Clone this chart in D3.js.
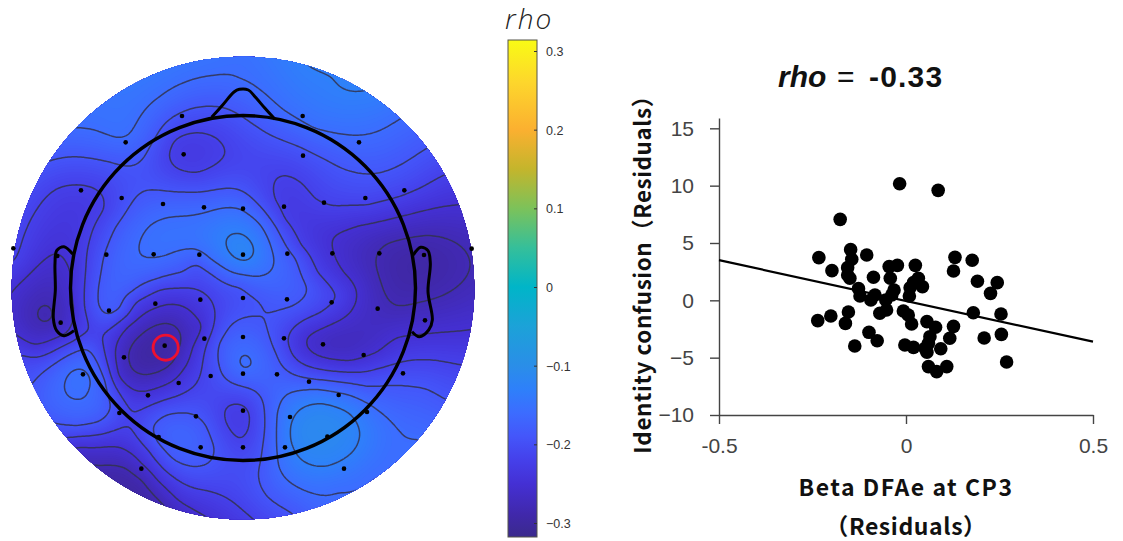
<!DOCTYPE html>
<html>
<head>
<meta charset="utf-8">
<script src="https://cdnjs.cloudflare.com/ajax/libs/d3/7.8.5/d3.min.js"></script>
<style>
html,body{margin:0;padding:0;background:#fff;}
svg{display:block;}
</style>
</head>
<body>
<svg width="1123" height="541"></svg>
<script>
// scatter
var betaDfa = [-0.017,0.086,-0.176,-0.148,-0.105,-0.233,-0.145,-0.156,-0.198,-0.156,-0.150,-0.087,-0.045,-0.023,0.025,0.131,0.177,0.127,-0.042,0.033,0.020,0.191,0.244,-0.127,-0.032,0.044,0.011,0.226,-0.123,-0.083,0.009,-0.038,-0.094,-0.054,0.180,0.254,-0.154,-0.201,-0.236,-0.162,-0.070,-0.052,-0.007,0.006,0.015,0.056,0.079,0.127,-0.099,-0.077,0.117,0.209,0.255,0.064,0.060,-0.003,0.020,0.051,0.093,0.056,-0.137,0.060,0.082,0.109,0.269];
var identityConfusion = [10.17,9.59,7.06,4.42,3.95,3.72,3.58,2.85,2.59,2.21,1.92,2.01,2.94,3.05,3.05,3.75,3.49,2.56,1.92,1.92,1.54,1.66,1.54,1.02,0.90,1.19,1.10,0.61,0.38,0.47,0.38,0.47,0.03,0.03,-1.08,-1.19,-1.02,-1.37,-1.77,-2.01,-1.13,-0.84,-0.93,-1.28,-2.06,-1.86,-2.35,-2.27,-2.79,-3.52,-3.31,-3.28,-2.97,-3.17,-3.75,-3.90,-4.10,-4.19,-4.22,-4.53,-3.98,-5.78,-6.22,-5.78,-5.38];
var fitX = [-0.5,0.5];
var fitY = [3.5,-3.6];
var xTicks = [-0.5,0,0.5];
var yTicks = [-10,-5,0,5,10,15];
var rhoTicks = [0.3,0.2,0.1,0,-0.1,-0.2,-0.3];
var rhoLevels = [-0.28,-0.25,-0.22,-0.19,-0.16,-0.13];

// electrodes, in map units (head radius 517.5, centre 729,684)
var electrodes = [[546,168],[908,168],[377,247],[1077,247],[551,283],[909,287],[243,391],[365,414],[1213,391],[1096,414],[972,428],[489,432],[612,442],[729,446],[852,440],[40,565],[1415,566],[319,584],[461,583],[598,584],[729,584],[862,581],[997,580],[1138,580],[172,588],[1272,585],[327,752],[466,731],[601,719],[729,714],[861,718],[995,727],[1133,746],[182,788],[1275,781],[613,836],[729,831],[852,835],[494,857],[969,853],[1091,885],[372,892],[249,943],[632,948],[729,941],[831,943],[927,965],[1209,940],[536,969],[444,1006],[1016,1005],[358,1059],[1101,1056],[729,1052],[588,1069],[870,1071],[476,1131],[982,1130],[602,1162],[729,1162],[855,1162],[424,1226],[1032,1226]];

// rho read along the contour lines of the map
var traceM13 = [[680,550],[705,522],[745,540],[760,580],[735,605],[700,590],
  [870,1100],[905,1045],[965,1030],[1050,1060],[1080,1120],[1060,1175],[980,1220],[900,1195],[870,1140],
  [925,20],[960,35],[1000,45]];
var traceM16 = [[420,570],[450,495],[510,470],[610,460],[720,445],[780,490],[815,570],[815,625],[770,650],[700,640],[630,600],[560,570],[490,590],[430,590],
  [830,1060],[860,1005],[950,985],[1050,1005],[1130,1050],[1205,1120],[1190,1190],[1120,1250],[1010,1290],[900,1285],[835,1220],[830,1140],
  [225,205],[350,235],[385,230],[420,170],[480,110],[560,65],[640,48],[720,60],[800,105],[850,150],[940,205],[1050,225],[1130,215],[1200,175],
  [720,900],[733,885],[750,900],[752,920],[730,930],[718,920],
  [195,970],[210,935],[245,925],[272,950],[260,990],[230,1012],[200,1000]];
var traceM19 = [[295,735],[295,680],[310,590],[345,500],[400,420],[450,390],[560,395],[700,385],[760,420],[830,500],[890,590],[925,680],[880,740],[810,765],[780,720],[720,675],[640,645],[550,640],[470,660],[400,700],[365,750],[325,770],
  [145,305],[220,290],[330,305],[400,315],[435,290],[470,230],[540,160],[610,140],[680,145],[740,180],[810,225],[900,260],[980,300],[1060,335],[1130,340],[1210,310],[1280,265],
  [770,775],[690,795],[655,850],[660,920],[690,965],[750,985],[790,1030],[795,1100],[785,1200],[775,1240],[800,1310],[880,1360],
  [790,775],[830,880],[860,930],[945,960],[1100,980],[1160,975],[1200,972],[1280,985],[1335,1020],
  [455,1100],[500,1063],[570,1060],[620,1095],[645,1160],[625,1210],[580,1220],[520,1200],[470,1150],
  [105,965],[150,920],[260,860],[300,925],[320,960],[335,1040],[300,1085],[230,1100],[160,1090]];
var traceM22 = [[505,285],[520,240],[590,218],[650,235],[675,270],[650,310],[590,340],[530,325],
  [1330,345],[1260,385],[1200,410],[1100,437],[1000,440],[945,420],[900,365],[855,345],[825,370],[822,420],[850,480],[900,560],[950,640],[1015,710],[960,760],[885,800],[862,840],[885,895],[950,925],[1050,935],[1130,925],[1210,905],[1300,900],[1385,915],
  [672,1060],[690,1035],[730,1032],[750,1060],[745,1110],[722,1140],[690,1110],[675,1085],
  [75,880],[190,855],[280,820],[350,790],[400,720],[480,685],[590,690],[640,740],[625,840],[605,930],[530,1010],[400,1065],[385,1090],[450,1170],[520,1250],[620,1290],[690,1320],[755,1373],
  [50,600],[70,530],[110,450],[170,385],[240,375],[310,410],[315,450],[270,540],[255,650],[250,740]];
var traceM25 = [[920,830],[1000,790],[1060,740],[1070,690],[1030,640],[1000,570],[1000,530],[1080,495],[1200,470],[1370,435],[920,860],[960,890],[1050,905],[1130,880],[1190,830],[1250,825],[1405,810],
  [345,880],[380,800],[470,745],[540,735],[575,790],[575,860],[545,930],[480,980],[400,990],[350,950],
  [40,690],[100,630],[170,580],[215,640],[225,740],[200,825],[100,860],
  [235,1158],[340,1158],[420,1210],[470,1260],[530,1320],[610,1365]];
var traceM28 = [[1130,590],[1160,550],[1280,525],[1370,550],[1410,610],[1370,680],[1260,725],[1190,740],[1150,690],
  [385,880],[420,830],[490,790],[530,800],[545,850],[520,910],[460,940],[400,930],
  [120,765],[140,750],[155,770],[140,785],
  [300,1218],[380,1222],[430,1260],[490,1330]];
// single readings: peaks and the rim of the disc
var rhoPeaks = [[729,570,-0.118],[965,1125,-0.112],[470,860,-0.30],[1270,630,-0.295],[1000,850,-0.27],[360,1290,-0.30],[135,768,-0.285],
  [729,-8,-0.155],[300,120,-0.15],[1150,100,-0.135],[1040,60,-0.125],[1340,1080,-0.175],[1250,1220,-0.15],[1000,1375,-0.165],[590,620,-0.20],[590,800,-0.27],[1200,1000,-0.185]];

var svg = d3.select("svg");

// ---- topographic map ----
var cx = 729, cy = 684, headR = 517.5, discR = 694;
var mapX = d3.scaleLinear().domain([0,1470]).range([0,490]);
var mapY = d3.scaleLinear().domain([0,1290]).range([60,490]);
var mapLen = function(v) { return v/3; };

var colorStops = [[-0.335,"#3a2a8c"],[-0.29,"#4028aa"],[-0.25,"#4430d4"],[-0.22,"#4540ea"],[-0.19,"#4456fa"],[-0.16,"#3c6cff"],[-0.13,"#2e80fa"],[-0.1,"#2a8ee8"],[-0.05,"#1ca2d8"],[0,"#00b5c8"],[0.05,"#35bf9a"],[0.1,"#7cc25a"],[0.15,"#c4b52c"],[0.2,"#fbb030"],[0.26,"#fdd62c"],[0.33,"#f9fb15"]];
var rhoColor = d3.scaleLinear().domain(colorStops.map(d => d[0])).range(colorStops.map(d => d[1])).clamp(true);

// thin plate spline through the readings, same idea as the biharmonic map interpolation
var samples = [];
[[traceM13,-0.13],[traceM16,-0.16],[traceM19,-0.19],[traceM22,-0.22],[traceM25,-0.25],[traceM28,-0.28]].forEach(t => {
    t[0].forEach(p => samples.push([(p[0]-cx)/headR, (p[1]-cy)/headR, t[1]]));
});
rhoPeaks.forEach(p => samples.push([(p[0]-cx)/headR, (p[1]-cy)/headR, p[2]]));

function kernel(dx, dy) {
    var r2 = dx*dx + dy*dy;
    return r2 > 1e-12 ? 0.5*r2*Math.log(r2) : 0;
}
function fitSpline(pts, smooth) {
    var n = pts.length, N = n+3, A = [];
    for(var i = 0; i < N; i++) A.push(new Float64Array(N+1));
    for(var i = 0; i < n; i++) {
        for(var j = 0; j < n; j++) A[i][j] = kernel(pts[i][0]-pts[j][0], pts[i][1]-pts[j][1]);
        A[i][i] += smooth;
        A[i][n] = A[n][i] = 1;
        A[i][n+1] = A[n+1][i] = pts[i][0];
        A[i][n+2] = A[n+2][i] = pts[i][1];
        A[i][N] = pts[i][2];
    }
    for(var c = 0; c < N; c++) {
        var best = c;
        for(var r = c+1; r < N; r++) if(Math.abs(A[r][c]) > Math.abs(A[best][c])) best = r;
        var tmp = A[c]; A[c] = A[best]; A[best] = tmp;
        for(var r = c+1; r < N; r++) {
            var f = A[r][c]/A[c][c];
            if(f === 0) continue;
            for(var k = c; k <= N; k++) A[r][k] -= f*A[c][k];
        }
    }
    var w = new Float64Array(N);
    for(var r = N-1; r >= 0; r--) {
        var s = A[r][N];
        for(var k = r+1; k < N; k++) s -= A[r][k]*w[k];
        w[r] = s/A[r][r];
    }
    return w;
}
var weights = fitSpline(samples, 0.006);
function rhoAt(u, v) {
    var n = samples.length, s = weights[n] + weights[n+1]*u + weights[n+2]*v;
    for(var i = 0; i < n; i++) s += weights[i]*kernel(u-samples[i][0], v-samples[i][1]);
    return s;
}

var gridN = 240;
var gridToMap = d3.scaleLinear().domain([0,gridN-1]).range([-715,715]);
var values = new Float64Array(gridN*gridN);
for(var j = 0; j < gridN; j++) {
    for(var i = 0; i < gridN; i++) {
        values[j*gridN+i] = rhoAt(gridToMap(i)/headR, gridToMap(j)/headR);
    }
}
var gridPath = d3.geoPath(d3.geoTransform({
    point: function(x, y) {
        this.stream.point(mapX(cx+gridToMap(x-0.5)), mapY(cy+gridToMap(y-0.5)));
    }
}));

var defs = svg.append("defs");
defs.append("clipPath").attr("id","disc").append("circle")
    .attr("cx", mapX(cx)).attr("cy", mapY(cy)).attr("r", mapLen(discR));
defs.append("filter").attr("id","soft").append("feGaussianBlur").attr("stdDeviation",0.4);

var map = svg.append("g").attr("clip-path","url(#disc)");
var contours = d3.contours().size([gridN,gridN]);
var fillLevels = d3.range(-0.36,-0.06,0.003);
map.append("circle").attr("cx", mapX(cx)).attr("cy", mapY(cy)).attr("r", mapLen(discR))
    .attr("fill", rhoColor(-0.36));
map.append("g").selectAll("path")
    .data(contours.thresholds(fillLevels)(values))
    .enter().append("path")
      .attr("d", gridPath)
      .attr("fill", d => rhoColor(d.value+0.0015));
map.append("g").attr("filter","url(#soft)").selectAll("path")
    .data(contours.thresholds(rhoLevels)(values))
    .enter().append("path")
      .attr("d", gridPath)
      .attr("fill","none")
      .attr("stroke","#33334e")
      .attr("stroke-width",1.5)
      .attr("stroke-opacity",0.85);

// head outline, nose and ears
var outline = d3.line().x(d => mapX(d[0])).y(d => mapY(d[1])).curve(d3.curveCatmullRom.alpha(0.5));
var noseLine = [[635,172],[668,135],[702,96],[718,88],[745,90],[765,110],[795,145],[825,178]];
var earLeft = [[218,582],[192,560],[170,572],[165,610],[166,690],[160,775],[170,812],[192,827],[222,812]];
var earRight = [[1240,585],[1262,562],[1284,572],[1291,610],[1284,695],[1297,780],[1286,810],[1258,830],[1236,815]];
var head = svg.append("g").attr("fill","none").attr("stroke","#000");
head.append("circle").attr("cx", mapX(cx)).attr("cy", mapY(cy)).attr("r", mapLen(headR)).attr("stroke-width",3.4);
[noseLine, earLeft, earRight].forEach(l => {
    head.append("path").attr("d", outline(l)).attr("stroke-width",3);
});

svg.append("g").selectAll("circle")
    .data(electrodes)
    .enter().append("circle")
      .attr("cx", d => mapX(d[0]))
      .attr("cy", d => mapY(d[1]))
      .attr("r",2.3)
      .attr("fill","#000");

svg.append("circle")
    .attr("cx", mapX(497)).attr("cy", mapY(863)).attr("r",12.6)
    .attr("fill","none").attr("stroke","#ee1030").attr("stroke-width",2.8);

// ---- colour bar ----
var barY = d3.scaleLinear().domain([-0.3,0.3]).range([523,51]);
var barTop = 40, barBottom = 537, barLeft = 508, barRight = 537;
var barGrad = defs.append("linearGradient").attr("id","bar").attr("x1",0).attr("x2",0).attr("y1",1).attr("y2",0);
colorStops.forEach(s => {
    barGrad.append("stop")
        .attr("offset", (barY(s[0])-barBottom)/(barTop-barBottom))
        .attr("stop-color", s[1]);
});
svg.append("rect").attr("x",barLeft).attr("y",barTop)
    .attr("width",barRight-barLeft).attr("height",barBottom-barTop)
    .attr("fill","url(#bar)").attr("stroke","#55554a").attr("stroke-width",1);
var barAxis = svg.append("g").attr("transform","translate("+barRight+",0)")
    .call(d3.axisLeft(barY).tickValues(rhoTicks).tickSize(3).tickFormat(d => d === 0 ? "0" : d3.format(".1f")(d).replace("-","\u2212")));
barAxis.select(".domain").remove();
barAxis.selectAll("line").attr("stroke","#333");
barAxis.selectAll("text")
    .attr("text-anchor","start").attr("x",9).attr("dy","0.35em")
    .attr("font-family","'Liberation Sans', sans-serif").attr("font-size",12.5).attr("fill","#333");
svg.append("text").attr("x",505).attr("y",29)
    .attr("font-family","'Open Sans', sans-serif").attr("font-style","italic").attr("font-weight",300).attr("font-size",28).attr("letter-spacing",2).attr("fill","#222")
    .text("rho");

// ---- scatter ----
var x = d3.scaleLinear().domain([-0.5,0.5]).range([719,1093]);
var y = d3.scaleLinear().domain([-10,15.9]).range([415,118]);
var axisFont = "'Liberation Sans', sans-serif";
var gx = svg.append("g").attr("transform","translate(0,415)")
    .call(d3.axisBottom(x).tickValues(xTicks).tickSize(9).tickSizeOuter(0).tickFormat(d => d === 0 ? "0" : d));
var gy = svg.append("g").attr("transform","translate(719,0)")
    .call(d3.axisLeft(y).tickValues(yTicks).tickSize(9).tickSizeOuter(0));
[gx, gy].forEach(g => {
    g.selectAll(".domain,line").attr("stroke","#444").attr("stroke-width",1.4);
    g.selectAll("text").attr("font-family",axisFont).attr("font-size",21).attr("fill","#444");
});
gx.selectAll("text").attr("y",23);
gy.selectAll("text").attr("x",-25);

svg.append("g").selectAll("circle")
    .data(betaDfa)
    .enter().append("circle")
      .attr("cx", d => x(d))
      .attr("cy", (d,i) => y(identityConfusion[i]))
      .attr("r",6.8)
      .attr("fill","#000");
svg.append("line")
    .attr("x1", x(fitX[0])).attr("y1", y(fitY[0]))
    .attr("x2", x(fitX[1])).attr("y2", y(fitY[1]))
    .attr("stroke","#000").attr("stroke-width",2.2);

var labelFont = "'Noto Sans CJK JP', sans-serif";
function axisLabel(sel) {
    return sel.attr("text-anchor","middle")
        .attr("font-family",labelFont).attr("font-weight",700).attr("font-size",23).attr("letter-spacing",0.6).attr("fill","#111");
}
svg.append("text").attr("transform","translate(651,269) rotate(-90)")
    .call(axisLabel).attr("font-size",22.4)
    .text("Identity confusion\uff08Residuals\uff09");
svg.append("text").attr("x",906).attr("y",496)
    .call(axisLabel).attr("letter-spacing",1.5)
    .text("Beta DFAe at CP3");
svg.append("text").attr("x",906).attr("y",535)
    .call(axisLabel)
    .text("\uff08Residuals\uff09");

var titleFont = "'Liberation Sans', sans-serif";
var title = svg.append("text").attr("y",87).attr("font-family",titleFont).attr("font-size",30).attr("fill","#111");
title.append("tspan").attr("x",778).attr("font-weight",700).attr("font-style","italic").text("rho");
title.append("tspan").attr("x",837).text("=");
title.append("tspan").attr("x",869).attr("font-weight",700).attr("letter-spacing",1.2).text("-0.33");
</script>
</body>
</html>
